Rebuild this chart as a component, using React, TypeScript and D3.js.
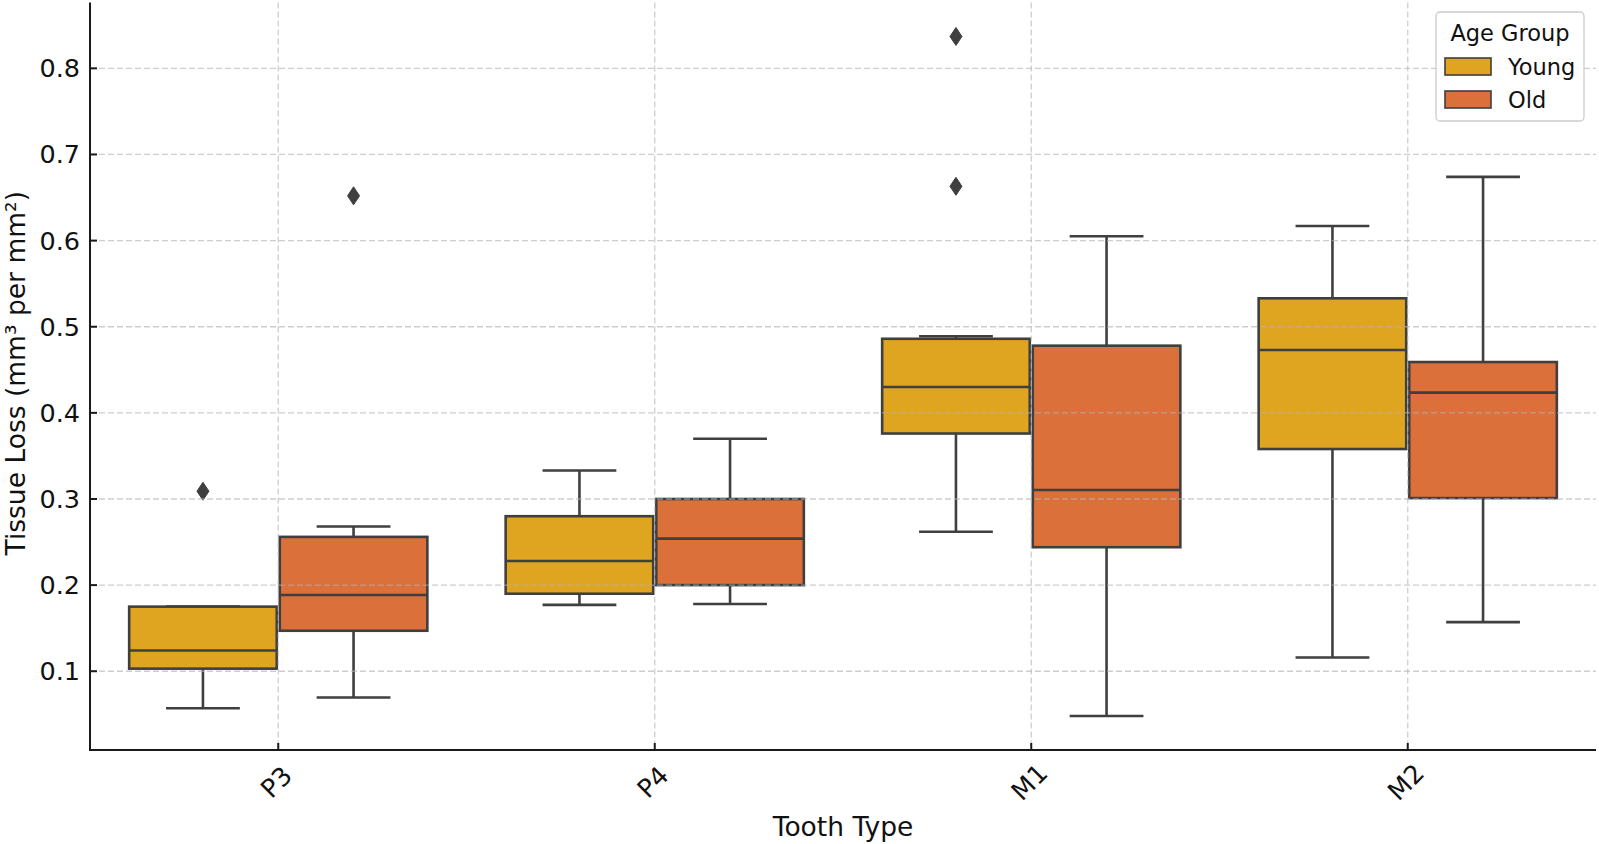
import React from 'react'
import * as d3 from 'd3'

const toothTypes = ['P3', 'P4', 'M1', 'M2']
const ageGroups = ['Young', 'Old']
const groupColors = ['#dfa420', '#db703b']

// box-plot summaries per tooth type
const youngLow = [0.057, 0.177, 0.262, 0.116]
const youngQ1 = [0.103, 0.19, 0.376, 0.358]
const youngMedian = [0.124, 0.228, 0.43, 0.473]
const youngQ3 = [0.175, 0.28, 0.486, 0.533]
const youngHigh = [0.175, 0.333, 0.489, 0.617]
const youngOutliers = [[0.309], [], [0.837, 0.663], []]

const oldLow = [0.0695, 0.178, 0.048, 0.157]
const oldQ1 = [0.147, 0.2, 0.244, 0.301]
const oldMedian = [0.1885, 0.254, 0.3105, 0.4235]
const oldQ3 = [0.256, 0.3, 0.478, 0.459]
const oldHigh = [0.268, 0.37, 0.605, 0.674]
const oldOutliers = [[0.652], [], [], []]

const yTicks = [0.1, 0.2, 0.3, 0.4, 0.5, 0.6, 0.7, 0.8]

const W = 1599
const H = 844
const margin = { left: 90, right: 3, top: 2.5, bottom: 94 }
const font = 'DejaVu Sans, sans-serif'
const edge = '#3f3f3f'

type Box = {
  tooth: string
  group: string
  color: string
  low: number
  q1: number
  median: number
  q3: number
  high: number
  outliers: number[]
}

const boxes: Box[] = []
toothTypes.forEach((t, i) => {
  boxes.push({
    tooth: t, group: 'Young', color: groupColors[0],
    low: youngLow[i], q1: youngQ1[i], median: youngMedian[i], q3: youngQ3[i], high: youngHigh[i],
    outliers: youngOutliers[i],
  })
  boxes.push({
    tooth: t, group: 'Old', color: groupColors[1],
    low: oldLow[i], q1: oldQ1[i], median: oldMedian[i], q3: oldQ3[i], high: oldHigh[i],
    outliers: oldOutliers[i],
  })
})

const App = () => {
  const x = d3
    .scaleBand()
    .domain(toothTypes)
    .range([margin.left, W - margin.right])
    .padding(0)
  const bw = x.bandwidth()
  const xGroup = d3
    .scaleBand()
    .domain(ageGroups)
    .range([0.1 * bw, 0.9 * bw])
  const boxW = xGroup.bandwidth() * 0.98

  const allVals = boxes.flatMap((b) => [b.low, b.high, ...b.outliers])
  const [vMin, vMax] = d3.extent(allVals) as [number, number]
  const pad = (vMax - vMin) * 0.05
  const y = d3
    .scaleLinear()
    .domain([vMin - pad, vMax + pad])
    .range([H - margin.bottom, margin.top])

  const plotBottom = H - margin.bottom
  const plotLeft = margin.left
  const plotRight = W - margin.right
  const diamond = 'M0,-9 L6,0 L0,9 L-6,0 Z'

  return (
    <svg
      width={W}
      height={H}
      style={{ position: 'absolute', left: 0, top: 0, background: '#fff' }}
      fontFamily={font}
    >
      {boxes.map((b, i) => {
        const cx = (x(b.tooth) as number) + (xGroup(b.group) as number) + xGroup.bandwidth() / 2
        const x0 = cx - boxW / 2
        const capW = boxW / 2
        return (
          <g key={i} stroke={edge} strokeWidth={2.6}>
            <line x1={cx} x2={cx} y1={y(b.q3)} y2={y(b.high)} />
            <line x1={cx} x2={cx} y1={y(b.q1)} y2={y(b.low)} />
            <line x1={cx - capW / 2} x2={cx + capW / 2} y1={y(b.high)} y2={y(b.high)} />
            <line x1={cx - capW / 2} x2={cx + capW / 2} y1={y(b.low)} y2={y(b.low)} />
            <rect x={x0} y={y(b.q3)} width={boxW} height={y(b.q1) - y(b.q3)} fill={b.color} />
            <line x1={x0} x2={x0 + boxW} y1={y(b.median)} y2={y(b.median)} />
            {b.outliers.map((o, j) => (
              <path key={j} d={diamond} transform={`translate(${cx},${y(o)})`} fill={edge} strokeWidth={1} />
            ))}
          </g>
        )
      })}

      {/* dashed grid on top of the boxes */}
      <g stroke="#b4b4b4" strokeOpacity={0.65} strokeWidth={1.3} strokeDasharray="6,3">
        {yTicks.map((t) => (
          <line key={t} x1={plotLeft} x2={plotRight} y1={y(t)} y2={y(t)} />
        ))}
        {toothTypes.map((t) => (
          <line key={t} x1={(x(t) as number) + bw / 2} x2={(x(t) as number) + bw / 2} y1={margin.top} y2={plotBottom} />
        ))}
      </g>

      {/* axes */}
      <g stroke="#1a1a1a" strokeWidth={2}>
        <line x1={plotLeft} x2={plotLeft} y1={margin.top} y2={plotBottom + 1} />
        <line x1={plotLeft - 1} x2={plotRight} y1={plotBottom} y2={plotBottom} />
        {yTicks.map((t) => (
          <line key={t} x1={plotLeft} x2={plotLeft + 7} y1={y(t)} y2={y(t)} />
        ))}
        {toothTypes.map((t) => (
          <line key={t} x1={(x(t) as number) + bw / 2} x2={(x(t) as number) + bw / 2} y1={plotBottom} y2={plotBottom - 7} />
        ))}
      </g>
      <g fontSize={25.5} fill="#111">
        {yTicks.map((t) => (
          <text key={t} x={plotLeft - 10} y={y(t)} textAnchor="end" dominantBaseline="central">
            {d3.format('.1f')(t)}
          </text>
        ))}
        {toothTypes.map((t) => (
          <text
            key={t}
            transform={`translate(${(x(t) as number) + bw / 2 - 2},${plotBottom + 32}) rotate(-45)`}
            textAnchor="middle"
            dominantBaseline="central"
          >
            {t}
          </text>
        ))}
      </g>
      <g fontSize={26.5} fill="#111">
        <text x={(plotLeft + plotRight) / 2} y={836} textAnchor="middle">
          Tooth Type
        </text>
        <text transform={`translate(25,${(margin.top + plotBottom) / 2 - 3}) rotate(-90)`} textAnchor="middle">
          Tissue Loss (mm³ per mm²)
        </text>
      </g>

      {/* legend */}
      <g fontSize={22.5} fill="#111">
        <rect x={1436} y={12} width={148} height={109} rx={4} fill="#fff" fillOpacity={0.8} stroke="#cccccc" strokeWidth={1.3} />
        <text x={1510} y={41} textAnchor="middle">
          Age Group
        </text>
        {ageGroups.map((g, i) => (
          <g key={g}>
            <rect x={1445} y={58 + i * 33} width={46} height={17} fill={groupColors[i]} stroke={edge} strokeWidth={1.6} />
            <text x={1508} y={75 + i * 33}>
              {g}
            </text>
          </g>
        ))}
      </g>
    </svg>
  )
}

export default App
